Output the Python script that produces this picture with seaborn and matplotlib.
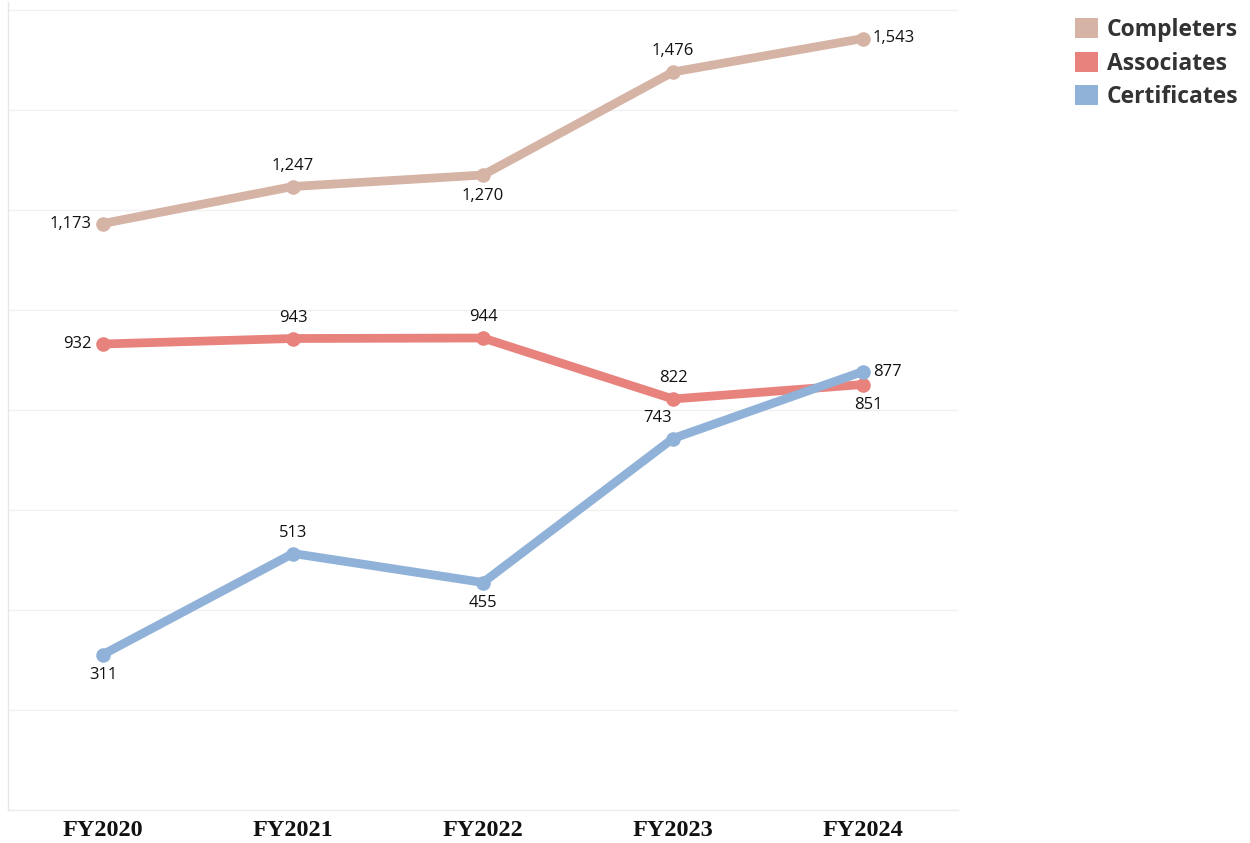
import matplotlib
matplotlib.use("Agg")
import matplotlib.pyplot as plt
import seaborn as sns
import pandas as pd
from matplotlib.patches import Patch

years = ["FY2020", "FY2021", "FY2022", "FY2023", "FY2024"]
completers = [1173, 1247, 1270, 1476, 1543]
associates = [932, 943, 944, 822, 851]
certificates = [311, 513, 455, 743, 877]
series_names = ["Completers", "Associates", "Certificates"]
colors = {"Completers": "#d5b4a5", "Associates": "#e8827d", "Certificates": "#91b2d8"}

placements = {
    "Completers": ["left", "above", "below", "above", "right"],
    "Associates": ["left", "above", "above", "above", "below"],
    "Certificates": ["below", "above", "below", "aboveleft", "right"],
}

rows = []
for name, vals in zip(series_names, [completers, associates, certificates]):
    for i, (y, v) in enumerate(zip(years, vals)):
        rows.append({"Year": y, "x": i, "Value": v, "Series": name})
df = pd.DataFrame(rows)

sns.set_theme(style="white")
plt.rcParams["font.family"] = ["Open Sans", "DejaVu Sans"]

fig = plt.figure(figsize=(12.5, 8.43), dpi=100)
ax = fig.add_axes([8 / 1250, 33 / 843, 950 / 1250, 808 / 843])

sns.lineplot(data=df, x="x", y="Value", hue="Series", palette=colors,
             hue_order=series_names, linewidth=6.3, marker="o", markersize=10.5,
             markeredgewidth=0, ax=ax, legend=False, sort=False)

ax.set_xlim(-0.5, 4.5)
ax.set_ylim(0, 1616)
ax.set_yticks(range(0, 1601, 200))
ax.set_yticklabels([])
ax.tick_params(axis="y", length=0)
ax.grid(axis="y", color="#f0f0f0", linewidth=1)
ax.set_axisbelow(True)
ax.set_xticks(range(len(years)))
ax.set_xticklabels(years, fontfamily="Liberation Serif", fontweight="bold",
                   fontsize=17.5, color="#111111")
ax.tick_params(axis="x", length=0, pad=7)
ax.set_xlabel("")
ax.set_ylabel("")
for s in ["top", "right"]:
    ax.spines[s].set_visible(False)
ax.spines["left"].set_color("#e6e6e6")
ax.spines["bottom"].set_color("#ececec")
ax.spines["left"].set_linewidth(1)
ax.spines["bottom"].set_linewidth(1)

offsets = {
    "left": ((-8, 0), "right", "center"),
    "right": ((7, 0), "left", "center"),
    "above": ((0, 15), "center", "center"),
    "below": ((0, -15), "center", "center"),
    "aboveleft": ((-11, 15), "center", "center"),
}
for name, vals in zip(series_names, [completers, associates, certificates]):
    for i, v in enumerate(vals):
        (dx, dy), ha, va = offsets[placements[name][i]]
        if name == "Associates" and i == 4:
            dx = 4
        ax.annotate(f"{v:,}", (i, v), xytext=(dx, dy), textcoords="offset points",
                    ha=ha, va=va, fontsize=12, color="#111111")

handles = [Patch(facecolor=colors[n], edgecolor="none", label=n) for n in series_names]
leg = fig.legend(handles=handles, loc="upper left", bbox_to_anchor=(1075 / 1250, 1 - 18 / 843),
                 frameon=False, prop={"family": "Open Sans", "weight": "bold", "size": 16.5},
                 handlelength=1.0, handleheight=0.95, handletextpad=0.38, labelspacing=0.42,
                 borderaxespad=0, borderpad=0)
for t in leg.get_texts():
    t.set_color("#333333")

fig.savefig("out.png", dpi=100)
